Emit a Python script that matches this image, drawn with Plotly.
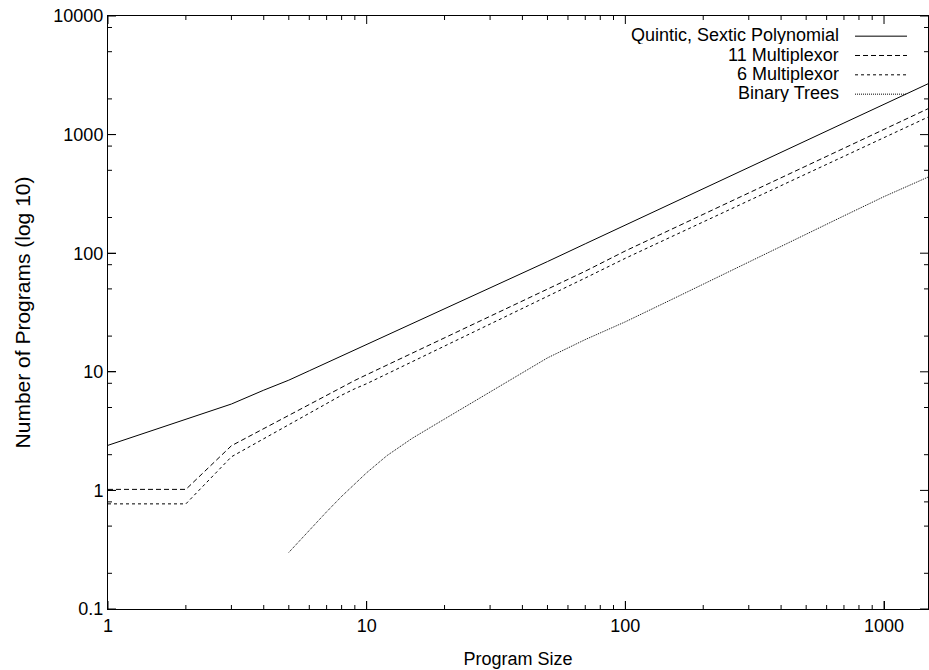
import plotly.graph_objects as go

# ---- data ----
sizes = [1, 2, 3, 4, 5, 6, 7, 8, 9, 10, 12, 15, 20, 30, 50, 70, 100, 150, 200, 300, 500, 700, 1000, 1500]
quintic = [2.4, 4.0, 5.35, 7.0, 8.5, 10.2, 11.9, 13.55, 15.2, 16.9, 20.2, 25.2, 33.6, 50.6, 85, 120, 173, 261, 350, 529, 890, 1253, 1800, 2720]
mux11 = [1.02, 1.02, 2.38, 3.32, 4.3, 5.3, 6.35, 7.45, 8.46, 9.45, 11.4, 14.4, 19.4, 29.5, 50, 70.5, 104.5, 158, 213, 322, 544, 768, 1107, 1676]
mux6 = [0.77, 0.77, 1.92, 2.72, 3.56, 4.44, 5.35, 6.35, 7.2, 7.94, 9.62, 12.2, 16.5, 25.3, 43.3, 61.8, 90.6, 137, 184, 278, 466, 656, 943, 1424]
tree_sizes = [5, 6, 7, 8, 9, 10, 12, 15, 20, 30, 50, 70, 100, 150, 200, 300, 500, 700, 1000, 1500]
trees = [0.30, 0.465, 0.66, 0.89, 1.14, 1.41, 1.97, 2.75, 4.0, 6.75, 13.1, 18.7, 26.4, 40.4, 54.9, 84.3, 144.6, 206.5, 300, 444]

series_names = ["Quintic, Sextic Polynomial", "11 Multiplexor", "6 Multiplexor", "Binary Trees"]

# tick positions / labels
tick_format = "~g"                       # labels "0.1" ... "10000", "1" ... "1000"
x_major = [1, 10, 100, 1000]
y_major = [0.1, 1, 10, 100, 1000, 10000]
x_minor = [m * d for d in (1, 10, 100) for m in range(2, 10)]
y_minor = [m * d for d in (0.1, 1, 10, 100, 1000) for m in (2, 5, 8)]

X_RANGE = [0, 3.17]
Y_RANGE = [-1, 4]

FONT = "Liberation Sans, Arial, Helvetica, sans-serif"
dashes = ["solid", "5px,3px", "3px,3px", "1px,1px"]

fig = go.Figure()
for name, xs, ys, dash in zip(series_names,
                              [sizes, sizes, sizes, tree_sizes],
                              [quintic, mux11, mux6, trees],
                              dashes):
    fig.add_trace(go.Scatter(x=xs, y=ys, mode="lines", name=name,
                             line=dict(color="black", width=1, dash=dash),
                             showlegend=False, hoverinfo="skip"))

# gnuplot-style legend: right-aligned text with line sample on the right
row_y = [0.9680, 0.9354, 0.9028, 0.8702]
for name, dash, yy in zip(series_names, dashes, row_y):
    fig.add_annotation(x=0.8927, y=yy, xref="paper", yref="paper", text=name,
                       showarrow=False, xanchor="right", yanchor="middle",
                       height=19, borderpad=0, valign="middle",
                       font=dict(family=FONT, size=18, color="black"))
    fig.add_shape(type="line", xref="paper", yref="paper", x0=0.9110, x1=0.9744,
                  y0=yy - 0.002, y1=yy - 0.002, line=dict(color="black", width=1, dash=dash))

# gnuplot-style inward tick marks on all four sides
tick_line = dict(color="black", width=1)
for vals, length in ((x_major, 8), (x_minor, 4)):
    for v in vals:
        for anchor, sign in ((0, 1), (1, -1)):
            fig.add_shape(type="line", xref="x", yref="paper", ysizemode="pixel", yanchor=anchor,
                          x0=v, x1=v, y0=0, y1=sign * length, line=tick_line)
for vals, length in ((y_major, 8), (y_minor, 4)):
    for v in vals:
        for anchor, sign in ((0, 1), (1, -1)):
            fig.add_shape(type="line", yref="y", xref="paper", xsizemode="pixel", xanchor=anchor,
                          y0=v, y1=v, x0=0, x1=sign * length, line=tick_line)

axis_common = dict(type="log", ticks="inside", ticklen=8, tickcolor="black", tickwidth=1,
                   showgrid=False, zeroline=False, dtick=1, tickformat=tick_format,
                   showline=True, linecolor="black", linewidth=1, mirror=True,
                   tickfont=dict(family=FONT, size=18, color="black"))

fig.update_layout(
    width=929, height=670,
    margin=dict(l=108, r=1, t=16, b=61),
    paper_bgcolor="white", plot_bgcolor="white",
    font=dict(family=FONT, size=18, color="black"),
    xaxis=dict(**axis_common, range=X_RANGE,
               title=dict(text="Program Size", font=dict(family=FONT, size=18), standoff=17)),
    yaxis=dict(**axis_common, range=Y_RANGE,
               title=dict(text="Number of Programs (log 10)", font=dict(family=FONT, size=21), standoff=16)),
)

fig.write_html("out.html", config={"displayModeBar": False},
               post_script="document.body.style.margin='0';")
